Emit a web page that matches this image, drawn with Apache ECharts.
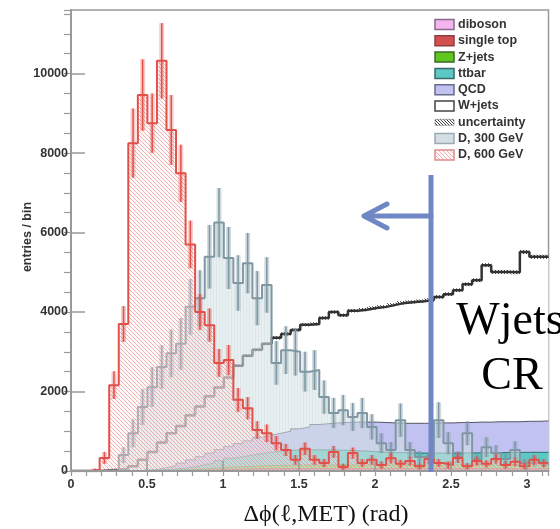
<!DOCTYPE html>
<html>
<head>
<meta charset="utf-8">
<script src="https://cdn.jsdelivr.net/npm/echarts@6/dist/echarts.min.js"></script>
<style>
  html, body { margin: 0; padding: 0; background: #fff; }
  #chart { width: 560px; height: 529px; }
</style>
</head>
<body>
<div id="chart"></div>
<script>
// 50 bins over 0..pi
const NBINS = 50;
const X_MAX = Math.PI;
const xTickLabels = ['0', '0.5', '1', '1.5', '2', '2.5', '3'];
const yTickLabels = ['0', '2000', '4000', '6000', '8000', '10000'];

// backgrounds (stacked, bottom to top)
const diboson = [0,0,0,0,0,0,0,0,1,1,2,2,3,3,4,5,5,6,6,7,8,8,8,8,8,8,8,8,8,8,8,8,8,8,8,8,8,8,8,8,8,8,8,8,8,8,8,8,8,8];
const singleTop = [0,0,0,0,0,0,1,3,4,7,10,14,17,22,26,30,35,39,44,48,52,52,52,52,52,52,52,52,52,52,52,52,52,52,52,52,52,52,52,52,52,52,52,52,52,52,52,52,52,52];
const zjets = [0,0,0,0,0,0,1,2,5,7,10,14,20,30,40,50,60,65,70,75,75,80,85,88,90,90,90,90,90,90,90,90,90,90,90,90,90,90,90,90,90,90,90,90,90,90,90,90,90,90];
const ttbar = [0,0,0,0,0,2,3,5,10,20,28,45,60,95,130,175,220,250,280,310,335,360,375,377,380,380,380,375,370,360,350,335,320,315,310,305,300,300,300,300,300,305,305,310,310,315,315,320,320,320];
const qcd = [0,0,0,0,0,3,5,10,20,45,80,125,180,210,250,280,300,330,360,410,430,450,480,535,580,640,660,685,700,720,730,745,750,745,740,745,750,750,760,760,770,765,775,770,780,775,775,780,780,790];
const wjets = [0,0,0,20,30,55,110,260,440,640,820,930,1120,1260,1430,1560,1730,1960,2140,2200,2300,2400,2450,2490,2570,2530,2660,2790,2700,2800,2830,2870,2910,2970,3030,3050,3070,3100,3170,3240,3330,3480,3570,3950,3770,3770,3760,4260,4140,4130];
const uncertainty = [0,0,0,5,5,8,10,15,20,25,25,28,30,30,32,32,35,35,38,38,40,40,40,40,40,40,42,42,42,42,42,42,42,42,45,45,45,45,45,45,45,48,48,50,50,50,50,52,52,52];

// signals
const d300 = [0,0,0,0,0,400,950,1610,2110,2620,2960,3200,4130,4350,5390,6250,5360,4730,5230,4350,4680,2720,3040,3000,2500,2540,1860,1460,1530,1360,1460,1110,700,530,1280,530,350,300,1280,700,350,950,280,600,450,300,530,200,200,150];
const d300Err = [0,0,0,0,0,200,350,450,500,550,600,650,700,700,800,870,780,700,760,680,700,550,600,600,500,500,420,380,380,350,380,320,250,200,420,200,150,150,450,280,150,300,130,250,200,150,220,100,100,80];
const d600 = [0,0,30,330,2160,3700,8250,9460,8750,10320,8580,7490,5700,4000,3670,2720,2790,1790,1580,1030,950,700,530,280,560,280,200,480,100,450,200,280,150,320,180,250,120,300,200,150,330,120,250,180,300,150,230,120,280,200];
const d600Err = [0,0,30,150,350,450,870,900,750,950,880,720,600,450,420,350,380,300,280,220,220,180,150,120,160,120,100,150,80,140,100,120,90,130,100,110,80,120,100,90,130,80,110,90,120,90,110,80,120,100];

const binW = X_MAX / NBINS;
function steps(vals) {
  const pts = vals.map((v, i) => [i * binW, v]);
  pts.push([X_MAX, vals[vals.length - 1]]);
  return pts;
}

function hatch(color, size, dir, bg) {
  const c = document.createElement('canvas');
  c.width = size; c.height = size;
  const g = c.getContext('2d');
  if (bg) { g.fillStyle = bg; g.fillRect(0, 0, size, size); }
  g.strokeStyle = color;
  g.lineWidth = 1;
  g.beginPath();
  if (dir === 'v') {
    g.moveTo(0.5, 0); g.lineTo(0.5, size);
  } else {
    g.moveTo(-1, -1); g.lineTo(size + 1, size + 1);
    g.moveTo(-1, size - 1); g.lineTo(1, size + 1);
    g.moveTo(size - 1, -1); g.lineTo(size + 1, 1);
  }
  g.stroke();
  return { image: c, repeat: 'repeat' };
}

const redHatch = hatch('rgba(232,130,130,0.6)', 4, 'd', 'rgba(255,235,235,0.3)');
const greyFill = hatch('rgba(190,206,213,0.25)', 3, 'v', 'rgba(214,225,230,0.55)');
const uncHatch = hatch('rgba(40,40,40,0.9)', 3, 'd', null);

const bg = [
  { name: 'diboson', vals: diboson, fill: '#f3b6ef', line: '#b060b0' },
  { name: 'single top', vals: singleTop, fill: '#d45050', line: '#9a2a2a' },
  { name: 'Z+jets', vals: zjets, fill: '#62c41e', line: '#3a7a10' },
  { name: 'ttbar', vals: ttbar, fill: '#5ec8c4', line: '#2e6f6c' },
  { name: 'QCD', vals: qcd, fill: '#c2c2f2', line: '#555566' },
  { name: 'W+jets', vals: wjets, fill: '#ffffff', line: '#333333' }
];

// cumulative stack tops, drawn top layer first so lower layers paint over
let run = new Array(NBINS).fill(0);
bg.forEach(b => { run = run.map((r, i) => r + b.vals[i]); b.cum = run.slice(); });
const total = bg[bg.length - 1].cum;

const series = [];
// W+jets (stack total) area
series.push({
  name: 'W+jets', type: 'line', step: 'end', symbol: 'none', z: 2,
  data: steps(total),
  lineStyle: { width: 0, opacity: 0 },
  areaStyle: { color: '#ffffff', opacity: 1 }
});
// uncertainty band around the stack total
series.push({
  type: 'custom', z: 3, silent: true,
  data: total.map((t, i) => [i * binW, t, uncertainty[i]]),
  encode: { x: 0, y: 1 },
  renderItem: function (params, api) {
    const t = api.value(1), u = api.value(2);
    if (u <= 0) return null;
    const p0 = api.coord([api.value(0), t + u]);
    const p1 = api.coord([api.value(0) + binW, t - u]);
    return { type: 'rect', shape: { x: p0[0], y: p0[1], width: p1[0] - p0[0], height: p1[1] - p0[1] },
      style: { fill: uncHatch } };
  }
});
series.push({
  type: 'line', step: 'end', symbol: 'none', z: 4,
  data: steps(total),
  lineStyle: { color: '#333', width: 2.5 }
});
bg.slice(0, bg.length - 1).reverse().forEach(b => {
  series.push({
    name: b.name, type: 'line', step: 'end', symbol: 'none', z: 5,
    data: steps(b.cum),
    lineStyle: { color: b.line, width: 1 },
    areaStyle: { color: b.fill, opacity: 1 }
  });
});

function errSeries(vals, errs, color, boxFill, z) {
  return {
    type: 'custom', z: z, silent: true,
    data: vals.map((v, i) => [(i + 0.5) * binW, v, errs[i]]),
    encode: { x: 0, y: 1 },
    renderItem: function (params, api) {
      const v = api.value(1), e = api.value(2);
      if (v <= 0 || e <= 0) return null;
      const x = api.value(0);
      const top = api.coord([x, v + e]);
      const bot = api.coord([x, Math.max(0, v - e)]);
      return {
        type: 'group',
        children: [
          { type: 'rect', shape: { x: top[0] - 2.5, y: top[1], width: 5, height: bot[1] - top[1] },
            style: { fill: boxFill } },
          { type: 'line', shape: { x1: top[0], y1: top[1], x2: bot[0], y2: bot[1] },
            style: { stroke: color, lineWidth: 1.5 } }
        ]
      };
    }
  };
}

series.push({
  name: 'D, 300 GeV', type: 'line', step: 'end', symbol: 'none', z: 6,
  data: steps(d300),
  lineStyle: { color: '#7f97a2', width: 2 },
  areaStyle: { color: greyFill, opacity: 1 }
});
series.push(errSeries(d300, d300Err, '#7f97a2', 'rgba(127,151,162,0.35)', 7));
series.push({
  name: 'D, 600 GeV', type: 'line', step: 'end', symbol: 'none', z: 8,
  data: steps(d600),
  lineStyle: { color: '#e2504a', width: 2 },
  areaStyle: { color: redHatch, opacity: 1 }
});
series.push(errSeries(d600, d600Err, '#e2504a', 'rgba(226,80,74,0.3)', 9));

// legend (drawn as graphics)
const legendItems = [
  { name: 'diboson', fill: '#f3b6ef', stroke: '#8a6a8a' },
  { name: 'single top', fill: '#d45050', stroke: '#8a4040' },
  { name: 'Z+jets', fill: '#62c41e', stroke: '#3a6a2a' },
  { name: 'ttbar', fill: '#5ec8c4', stroke: '#3a6a6a' },
  { name: 'QCD', fill: '#c2c2f2', stroke: '#6a6a8a' },
  { name: 'W+jets', fill: '#ffffff', stroke: '#444' },
  { name: 'uncertainty', fill: uncHatch, stroke: null },
  { name: 'D, 300 GeV', fill: '#d5dfe3', stroke: '#9aaab2' },
  { name: 'D, 600 GeV', fill: redHatch, stroke: '#e08a86' }
];
const graphics = [];
legendItems.forEach((it, i) => {
  const cy = 24.5 + i * 16.3;
  if (it.name === 'uncertainty') {
    graphics.push({ type: 'rect', shape: { x: 435, y: cy - 3, width: 19, height: 6 },
      style: { fill: it.fill, stroke: '#666', lineWidth: 0.5 } });
  } else {
    graphics.push({ type: 'rect', shape: { x: 435, y: cy - 5, width: 19, height: 10 },
      style: { fill: it.fill, stroke: it.stroke, lineWidth: 1.5 } });
  }
  graphics.push({ type: 'text', x: 458, y: cy,
    style: { text: it.name, fill: '#333', font: 'bold 12.5px "Liberation Sans", Arial, sans-serif', verticalAlign: 'middle' } });
});

// axis titles
graphics.push({ type: 'text', x: 326, y: 515, style: {
  text: 'Δϕ(ℓ,MET) (rad)', fill: '#111', font: '24px "Liberation Serif", "DejaVu Serif", serif',
  align: 'center', verticalAlign: 'middle' } });
graphics.push({ type: 'text', x: 28, y: 237, rotation: Math.PI / 2, style: {
  text: 'entries / bin', fill: '#333', font: 'bold 12.5px "Liberation Sans", Arial, sans-serif',
  align: 'center', verticalAlign: 'middle' } });

// Wjets CR annotation
graphics.push({ type: 'line', shape: { x1: 431, y1: 175, x2: 431, y2: 472 },
  style: { stroke: '#6f87c4', lineWidth: 5 }, z: 50 });
graphics.push({ type: 'line', shape: { x1: 431, y1: 216, x2: 365, y2: 216 },
  style: { stroke: '#6f87c4', lineWidth: 5, lineCap: 'round' }, z: 50 });
graphics.push({ type: 'polyline', shape: { points: [[387, 204], [364, 216], [387, 228]] },
  style: { stroke: '#6f87c4', lineWidth: 5, lineCap: 'round', lineJoin: 'round', fill: null }, z: 50 });
graphics.push({ type: 'text', x: 510, y: 322, z: 50, style: {
  text: 'Wjets', fill: '#000', font: '46px "Liberation Serif", serif', align: 'center', verticalAlign: 'middle' } });
graphics.push({ type: 'text', x: 512, y: 377, z: 50, style: {
  text: 'CR', fill: '#000', font: '46px "Liberation Serif", serif', align: 'center', verticalAlign: 'middle' } });

const chart = echarts.init(document.getElementById('chart'), null, { renderer: 'canvas' });
const labelFont = { color: '#333', fontWeight: 'bold', fontSize: 12.5, fontFamily: '"Liberation Sans", Arial, sans-serif' };
chart.setOption({
  animation: false,
  backgroundColor: '#fff',
  grid: { left: 71, top: 10, width: 477.5, height: 461, show: true, borderColor: '#999', borderWidth: 1.5,
          backgroundColor: 'transparent', containLabel: false, outerBoundsMode: 'none' },
  xAxis: [
    { type: 'value', min: 0, max: X_MAX, interval: 0.5, z: 20,
      axisLine: { show: true, onZero: false, lineStyle: { color: '#999', width: 2 } },
      axisTick: { show: true, inside: true, length: 10, lineStyle: { color: '#999', width: 1.5 } },
      axisLabel: Object.assign({ margin: 7, showMaxLabel: false, hideOverlap: false,
        formatter: v => { const k = Math.round(v * 2); return Math.abs(v * 2 - k) < 1e-6 && k < xTickLabels.length ? xTickLabels[k] : ''; } }, labelFont),
      splitLine: { show: false } },
    { type: 'value', min: 0, max: X_MAX, interval: 0.1, z: 20,
      axisLine: { show: false },
      axisTick: { show: true, inside: true, length: 5, lineStyle: { color: '#999', width: 1.2 } },
      axisLabel: { show: false }, splitLine: { show: false } }
  ],
  yAxis: [
    { type: 'value', min: 0, max: 11600, interval: 2000, z: 20,
      axisLine: { show: true, onZero: false, lineStyle: { color: '#999', width: 2 } },
      axisTick: { show: true, inside: true, length: 14, lineStyle: { color: '#999', width: 1.5 } },
      axisLabel: Object.assign({ margin: 3, showMaxLabel: false, hideOverlap: false,
        formatter: v => { const k = Math.round(v / 2000); return Math.abs(v - k * 2000) < 1e-6 && k < yTickLabels.length ? yTickLabels[k] : ''; } }, labelFont),
      splitLine: { show: false } },
    { type: 'value', min: 0, max: 11600, interval: 500, z: 20,
      axisLine: { show: false },
      axisTick: { show: true, inside: true, length: 7, lineStyle: { color: '#999', width: 1.2 } },
      axisLabel: { show: false }, splitLine: { show: false } }
  ],
  series: series,
  graphic: graphics
});
</script>
</body>
</html>
